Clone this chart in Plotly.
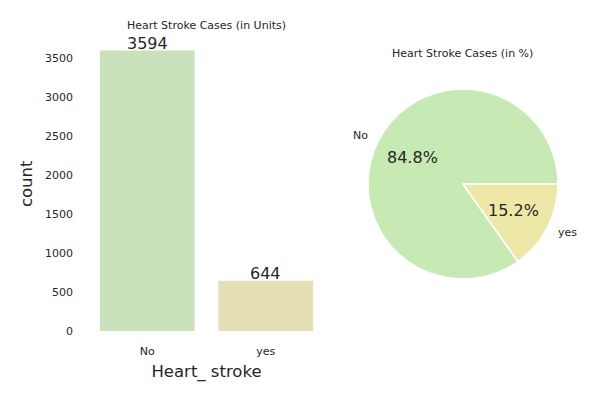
import math
import plotly.graph_objects as go

categories = ["No", "yes"]
counts = [3594, 644]
bar_colors = ["#c9e2bc", "#e3dfb2"]
pie_colors = ["#c7e9b4", "#ede8a8"]
yticks = [0, 500, 1000, 1500, 2000, 2500, 3000, 3500]

FONT = "DejaVu Sans"
TXT = "#262626"

fig = go.Figure()
fig.add_trace(go.Bar(
    x=[0, 1], y=counts, width=0.8,
    marker=dict(color=bar_colors, line=dict(width=0)),
    cliponaxis=False, xaxis="x", yaxis="y", showlegend=False,
))
for i, c in enumerate(counts):
    fig.add_annotation(x=i, y=c, xref="x", yref="y", text=str(c), showarrow=False,
                       xanchor="center", yanchor="bottom", yshift=-4,
                       font=dict(size=16, color=TXT, family=FONT))

total = sum(counts)
fig.add_trace(go.Pie(
    labels=categories, values=counts, sort=False,
    direction="counterclockwise", rotation=90 + 360*counts[1]/total,
    marker=dict(colors=pie_colors, line=dict(color="white", width=1.5)),
    textinfo="none", hoverinfo="label+percent", showlegend=False,
    domain=dict(x=[368/600, 558/600], y=[(400-279)/400, (400-89)/400]),
))

# pie labels (matplotlib-style: labels at 1.1r, pct at 0.6r)
cx, cy = (368+558)/2/600, 1-(89+279)/2/400
r_px = 95
start = 0.0
for lab, v in zip(categories, counts):
    frac = v/total
    mid = (start + frac/2) * 2*math.pi
    start += frac
    dx, dy = math.cos(mid), math.sin(mid)
    fig.add_annotation(x=cx + 1.1*r_px*dx/600, y=cy + 1.1*r_px*dy/400,
                       xref="paper", yref="paper", text=lab, showarrow=False,
                       xanchor="right" if dx < 0 else "left", yanchor="middle",
                       font=dict(size=11, color=TXT, family=FONT))
    fig.add_annotation(x=cx + 0.6*r_px*dx/600, y=cy + 0.6*r_px*dy/400,
                       xref="paper", yref="paper", text=f"{frac*100:.1f}%",
                       showarrow=False, xanchor="center", yanchor="middle",
                       font=dict(size=16, color=TXT, family=FONT))

fig.add_annotation(x=206/600, y=1-25/400, xref="paper", yref="paper",
                   text="Heart Stroke Cases (in Units)", showarrow=False,
                   xanchor="center", yanchor="middle",
                   font=dict(size=11, color=TXT, family=FONT))
fig.add_annotation(x=462/600, y=1-53/400, xref="paper", yref="paper",
                   text="Heart Stroke Cases (in %)", showarrow=False,
                   xanchor="center", yanchor="middle",
                   font=dict(size=11, color=TXT, family=FONT))

fig.update_layout(
    width=600, height=400, margin=dict(l=0, r=0, t=0, b=0, autoexpand=False),
    paper_bgcolor="white", plot_bgcolor="white",
    font=dict(family=FONT, color=TXT),
    xaxis=dict(domain=[88/600, 325/600], range=[-0.5, 1.5], automargin=False,
               tickvals=[0, 1], ticktext=categories, showgrid=False,
               zeroline=False, showline=False, ticks="", ticklabelstandoff=12,
               tickfont=dict(size=11, color=TXT),
               title=dict(text="Heart_ stroke", font=dict(size=16.5, color=TXT), standoff=8)),
    yaxis=dict(domain=[(400-331)/400, 1-36.6/400], range=[0, 3773.7], automargin=False,
               tickvals=yticks, showgrid=False, zeroline=False, showline=False,
               ticks="", ticklabelstandoff=14, tickfont=dict(size=11, color=TXT),
               title=dict(text="count", font=dict(size=16.5, color=TXT), standoff=8)),
)

fig.write_html("out.html", config={"displayModeBar": False},
               post_script="document.body.style.margin='0';")
